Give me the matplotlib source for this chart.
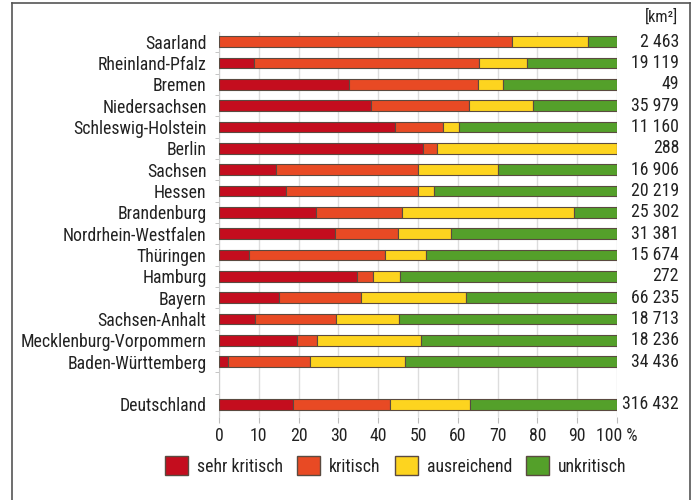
import numpy as np
import matplotlib
matplotlib.use('Agg')
import matplotlib.pyplot as plt
from matplotlib.patches import Patch
from matplotlib.lines import Line2D

plt.rcParams['font.family'] = ['DejaVu Sans Condensed', 'Roboto Condensed',
                               'Liberation Sans Narrow', 'Roboto', 'DejaVu Sans']

# Bundeslaender, oben nach unten; Deutschland nach einer Leerzeile
laender = ['Saarland', 'Rheinland-Pfalz', 'Bremen', 'Niedersachsen',
           'Schleswig-Holstein', 'Berlin', 'Sachsen', 'Hessen', 'Brandenburg',
           'Nordrhein-Westfalen', 'Thüringen', 'Hamburg', 'Bayern',
           'Sachsen-Anhalt', 'Mecklenburg-Vorpommern', 'Baden-Württemberg',
           'Deutschland']
flaeche = ['2 463', '19 119', '49', '35 979', '11 160', '288', '16 906',
           '20 219', '25 302', '31 381', '15 674', '272', '66 235', '18 713',
           '18 236', '34 436', '316 432']

# Anteile in %
sehr_kritisch = [0.0, 8.9, 32.6, 38.3, 44.3, 51.2, 14.2, 16.8, 24.3, 29.1,
                 7.5, 34.6, 15.0, 9.0, 19.5, 2.3, 18.6]
kritisch = [73.7, 56.5, 32.6, 24.5, 11.9, 3.6, 35.8, 33.2, 21.8, 15.8,
            34.3, 4.1, 20.8, 20.4, 5.0, 20.6, 24.3]
ausreichend = [18.9, 12.0, 6.1, 16.0, 4.2, 45.2, 20.0, 4.1, 43.0, 13.3,
               10.3, 6.9, 26.3, 15.9, 26.2, 23.8, 20.1]
unkritisch = [7.4, 22.6, 28.7, 21.2, 39.6, 0.0, 30.0, 45.9, 10.9, 41.8,
              47.9, 54.4, 37.9, 54.7, 49.3, 53.3, 37.0]

klassen = ['sehr kritisch', 'kritisch', 'ausreichend', 'unkritisch']
farben = ['#c40d1e', '#e84a24', '#fdd41f', '#54a02a']
kante = '#5a4a40'

pos = np.append(np.arange(16), 17)

fig = plt.figure(figsize=(6.96, 5.0), dpi=100)

# Schriftgroesse so waehlen, dass die laengste Beschriftung ~185 px breit ist
r = fig.canvas.get_renderer()
t = fig.text(0, 0, 'Mecklenburg-Vorpommern', fontsize=10)
fs = min(10 * 185 / t.get_window_extent(r).width, 13.5)
t.remove()

ax = fig.add_axes([219/696, 1 - 417/500, (617-219)/696, 385/500])

links = np.zeros(len(laender))
for werte, farbe in zip([sehr_kritisch, kritisch, ausreichend, unkritisch], farben):
    werte = np.array(werte)
    ax.barh(pos, werte, left=links, height=0.5, color=farbe,
            edgecolor=kante, linewidth=0.8, zorder=3)
    links += werte

ax.set_xlim(0, 100)
ax.set_ylim(17.6, -0.45)
ax.set_xticks(np.arange(0, 101, 10))
ax.set_xticklabels([str(v) for v in range(0, 100, 10)] + ['100 %'])
ax.set_yticks(pos)
ax.set_yticklabels(laender)
ax.set_yticks(np.arange(0.5, 17, 1), minor=True)
ax.tick_params(axis='y', which='major', length=0, pad=9, labelsize=fs,
               labelcolor='#222222')
ax.tick_params(axis='y', which='minor', length=3, color='#bbbbbb')
ax.tick_params(axis='x', length=4, color='#bbbbbb', labelsize=fs,
               labelcolor='#222222', pad=3)
ax.grid(axis='x', color='#dddddd', linewidth=1, zorder=0)
for s in ['top', 'right', 'bottom']:
    ax.spines[s].set_visible(False)
ax.spines['left'].set_color('#cccccc')

for p, f in zip(pos, flaeche):
    ax.text(115.6, p, f, ha='right', va='center', fontsize=fs,
            color='#222222', clip_on=False)
ax.text(115.3, -1.15, '[km²]', ha='right', va='center', fontsize=fs - 1,
        color='#222222', clip_on=False)

handles = [Patch(facecolor=c, edgecolor=kante, linewidth=1) for c in farben]
fig.legend(handles, klassen, loc='center', bbox_to_anchor=(396/696, 1 - 466/500),
           ncol=4, frameon=False, fontsize=fs, handlelength=1.3,
           handleheight=1.3, handletextpad=0.5, columnspacing=0.8,
           labelcolor='#222222')

# Rahmen
for xs, ys in [([12/696, 12/696], [0, 1 - 3/500]),
               ([12/696, 690/696], [1 - 3/500, 1 - 3/500]),
               ([690/696, 690/696], [0, 1 - 3/500])]:
    fig.add_artist(Line2D(xs, ys, color='#555555', linewidth=1.2))

fig.savefig('out.png', dpi=100)
plt.close()
